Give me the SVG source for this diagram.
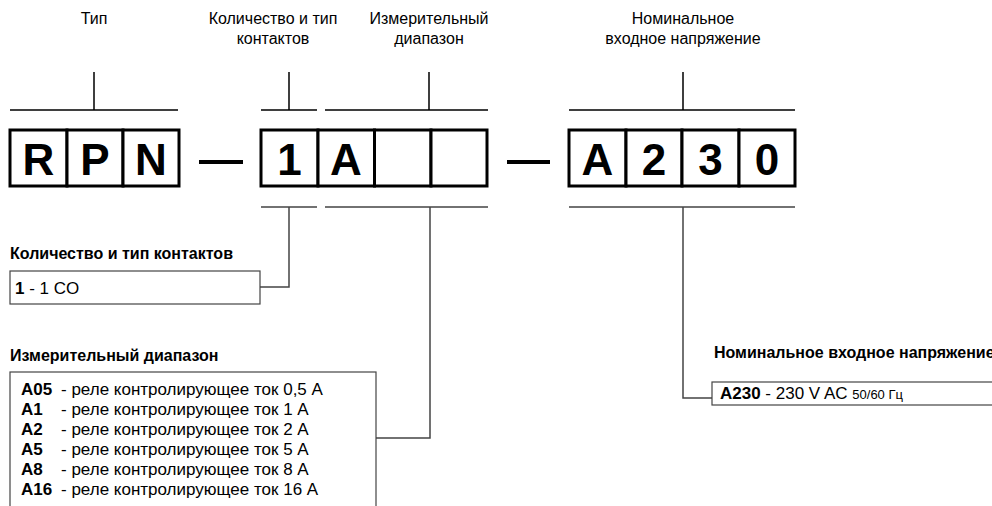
<svg xmlns="http://www.w3.org/2000/svg" width="992" height="506" viewBox="0 0 992 506">
<style>
text{font-family:"Liberation Sans",Arial,sans-serif;fill:#000}
.lbl{font-size:16px;text-anchor:middle}
.big{font-size:44px;font-weight:bold;text-anchor:middle}
.cell{fill:#fff;stroke:#000;stroke-width:3}
.br{stroke:#000;stroke-width:1.5;fill:none}
.cn{stroke:#444;stroke-width:1.5;fill:none}
.box{fill:#fff;stroke:#444;stroke-width:1.2}
.t{font-size:17px}
.b{font-weight:bold}
.h{font-size:16px;font-weight:bold}
.s{font-size:13px}
</style>
<rect width="992" height="506" fill="#fff"/>
<g id="labels">
<text class="lbl" x="94" y="24">Тип</text>
<text class="lbl" x="273" y="24">Количество и тип</text>
<text class="lbl" x="273" y="44">контактов</text>
<text class="lbl" x="429" y="24">Измерительный</text>
<text class="lbl" x="429" y="44">диапазон</text>
<text class="lbl" x="683" y="24">Номинальное</text>
<text class="lbl" x="683" y="44">входное напряжение</text>
</g>
<g id="type">
<rect class="cell" x="10" y="130" width="57" height="56"/>
<rect class="cell" x="67" y="130" width="56" height="56"/>
<rect class="cell" x="123" y="130" width="56" height="56"/>
<text class="big" x="38.5" y="175">R</text>
<text class="big" x="95" y="175">P</text>
<text class="big" x="151" y="175">N</text>
</g>
<g id="dashes">
<line x1="199" y1="162" x2="243" y2="162" stroke="#000" stroke-width="4"/>
<line x1="507" y1="162" x2="550" y2="162" stroke="#000" stroke-width="4"/>
</g>
<g id="code">
<rect class="cell" x="261" y="130" width="57" height="56"/>
<rect class="cell" x="318" y="130" width="56.5" height="56"/>
<rect class="cell" x="374.5" y="130" width="56.5" height="56"/>
<rect class="cell" x="431" y="130" width="56" height="56"/>
<text class="big" x="289.5" y="175">1</text>
<text class="big" x="346" y="175">A</text>
</g>
<g id="voltage">
<rect class="cell" x="569" y="130" width="57" height="56"/>
<rect class="cell" x="626" y="130" width="56" height="56"/>
<rect class="cell" x="682" y="130" width="57" height="56"/>
<rect class="cell" x="739" y="130" width="56" height="56"/>
<text class="big" x="597.5" y="175">A</text>
<text class="big" x="654" y="175">2</text>
<text class="big" x="710.5" y="175">3</text>
<text class="big" x="767" y="175">0</text>
</g>
<g id="connectors">
<path class="br" d="M10 110H178M94 72V110"/>
<path class="br" d="M261 110H317M289 72V110"/>
<path class="br" d="M325 110H488M429 72V110"/>
<path class="br" d="M569 110H795M683 72V110"/>
<path class="cn" d="M261 207H317M325 207H488M569 207H795"/>
<path class="cn" d="M289 207V287H260"/>
<path class="cn" d="M430 207V438H376"/>
<path class="cn" d="M683 207V398H712"/>
</g>
<g id="contacts">
<text class="h" x="10" y="259">Количество и тип контактов</text>
<rect class="box" x="10" y="271" width="250" height="33"/>
<text class="t" x="15" y="294"><tspan class="b">1</tspan> - 1 CO</text>
</g>
<g id="range">
<text class="h" x="10" y="361">Измерительный диапазон</text>
<rect class="box" x="10" y="372" width="366" height="160"/>
<text class="t b" x="21" y="395">A05</text><text class="t" x="61" y="395">- реле контролирующее ток 0,5 A</text>
<text class="t b" x="21" y="415">A1</text><text class="t" x="61" y="415">- реле контролирующее ток 1 A</text>
<text class="t b" x="21" y="435">A2</text><text class="t" x="61" y="435">- реле контролирующее ток 2 A</text>
<text class="t b" x="21" y="455">A5</text><text class="t" x="61" y="455">- реле контролирующее ток 5 A</text>
<text class="t b" x="21" y="475">A8</text><text class="t" x="61" y="475">- реле контролирующее ток 8 A</text>
<text class="t b" x="21" y="495">A16</text><text class="t" x="61" y="495">- реле контролирующее ток 16 A</text>
</g>
<g id="nominal">
<text class="h" x="714" y="358">Номинальное входное напряжение</text>
<rect class="box" x="712" y="382" width="290" height="23"/>
<text class="t" x="720" y="399"><tspan class="b">A230</tspan> - 230 V AC <tspan class="s">50/60 Гц</tspan></text>
</g>
</svg>
